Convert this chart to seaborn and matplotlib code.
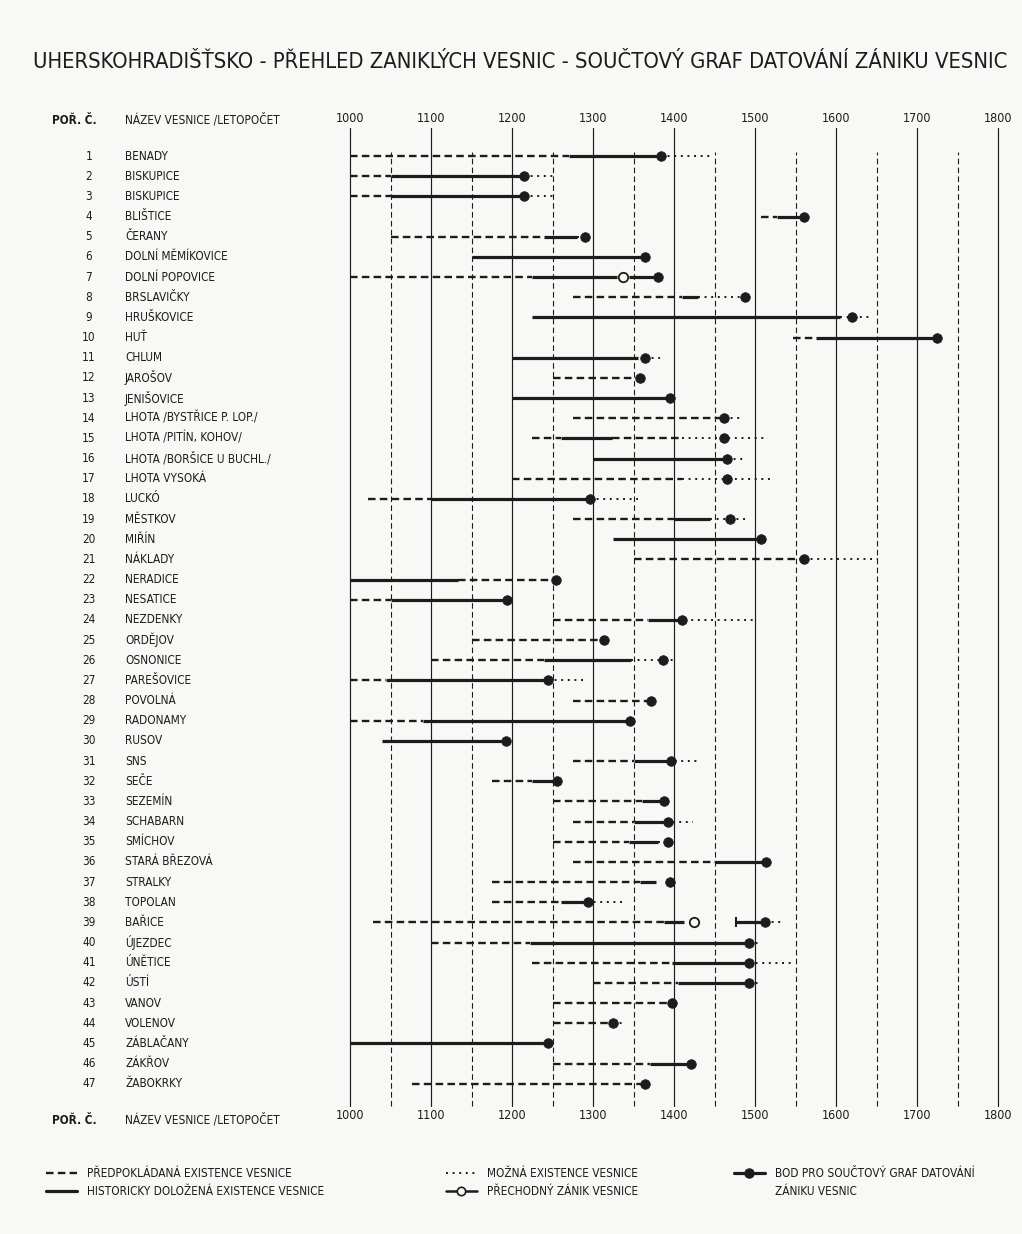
import matplotlib
matplotlib.use("Agg")
import pandas as pd
import matplotlib.pyplot as plt
import seaborn as sns
from matplotlib.lines import Line2D
from matplotlib.transforms import blended_transform_factory

# =========================
# DATA
# =========================
TITLE = "UHERSKOHRADIŠŤSKO - PŘEHLED ZANIKLÝCH VESNIC - SOUČTOVÝ GRAF DATOVÁNÍ ZÁNIKU VESNIC"

names = [
    "BENADY", "BISKUPICE", "BISKUPICE", "BLIŠTICE", "ČERANY",
    "DOLNÍ MĚMÍKOVICE", "DOLNÍ POPOVICE", "BRSLAVIČKY", "HRUŠKOVICE", "HUŤ",
    "CHLUM", "JAROŠOV", "JENIŠOVICE", "LHOTA /BYSTŘICE P. LOP./",
    "LHOTA /PITÍN, KOHOV/", "LHOTA /BORŠICE U BUCHL./", "LHOTA VYSOKÁ",
    "LUCKÓ", "MĚSTKOV", "MIŘÍN", "NÁKLADY", "NERADICE", "NESATICE",
    "NEZDENKY", "ORDĚJOV", "OSNONICE", "PAREŠOVICE", "POVOLNÁ", "RADONAMY",
    "RUSOV", "SNS", "SEČE", "SEZEMÍN", "SCHABARN", "SMÍCHOV",
    "STARÁ BŘEZOVÁ", "STRALKY", "TOPOLAN", "BAŘICE", "ÚJEZDEC", "ÚNĚTICE",
    "ÚSTÍ", "VANOV", "VOLENOV", "ZÁBLAČANY", "ZÁKŘOV", "ŽABOKRKY",
]
row_no = list(range(1, len(names) + 1))

century_ticks = [1000, 1100, 1200, 1300, 1400, 1500, 1600, 1700, 1800]
half_century = [1050, 1150, 1250, 1350, 1450, 1550, 1650, 1750]

# (row, from year, to year)
assumed = [  # předpokládaná existence - dashed
    (1, 1000, 1270), (2, 1000, 1050), (3, 1000, 1050), (4, 1508, 1527),
    (5, 1050, 1240), (7, 1000, 1225), (8, 1275, 1410), (10, 1547, 1575),
    (12, 1250, 1355), (14, 1275, 1460), (15, 1225, 1260), (15, 1323, 1410),
    (17, 1200, 1410), (18, 1022, 1100), (19, 1275, 1400), (21, 1350, 1560),
    (22, 1133, 1254), (23, 1000, 1050), (24, 1250, 1368), (25, 1150, 1314),
    (26, 1100, 1240), (27, 1000, 1045), (28, 1275, 1370), (29, 1000, 1090),
    (31, 1275, 1350), (32, 1175, 1225), (33, 1250, 1360), (34, 1275, 1350),
    (35, 1250, 1345), (36, 1275, 1450), (37, 1175, 1358), (38, 1175, 1260),
    (39, 1028, 1388), (40, 1100, 1222), (41, 1225, 1397), (42, 1300, 1405),
    (43, 1250, 1397), (44, 1250, 1325), (46, 1250, 1370), (47, 1077, 1364),
]
documented = [  # historicky doložená existence - solid
    (1, 1270, 1384), (2, 1050, 1215), (3, 1050, 1215), (4, 1527, 1560),
    (5, 1240, 1280), (6, 1150, 1364), (7, 1225, 1330), (7, 1345, 1380),
    (8, 1410, 1430), (9, 1225, 1605), (10, 1575, 1725), (11, 1200, 1355),
    (13, 1200, 1395), (15, 1260, 1323), (16, 1300, 1465), (18, 1100, 1296),
    (19, 1400, 1445), (20, 1325, 1508), (22, 1000, 1133), (23, 1050, 1194),
    (24, 1368, 1405), (26, 1240, 1347), (27, 1045, 1245), (29, 1090, 1346),
    (30, 1040, 1193), (31, 1350, 1392), (32, 1225, 1255), (33, 1360, 1388),
    (34, 1350, 1390), (35, 1345, 1380), (36, 1450, 1514), (37, 1358, 1378),
    (38, 1260, 1292), (39, 1388, 1412), (39, 1477, 1512), (40, 1222, 1492),
    (41, 1397, 1492), (42, 1405, 1492), (45, 1000, 1245), (46, 1370, 1421),
]
possible = [  # možná existence - dotted
    (1, 1384, 1445), (2, 1215, 1250), (3, 1215, 1250), (5, 1280, 1290),
    (8, 1430, 1488), (9, 1605, 1645), (11, 1364, 1383), (14, 1462, 1481),
    (15, 1410, 1516), (16, 1465, 1486), (17, 1410, 1522), (18, 1296, 1355),
    (19, 1445, 1492), (21, 1560, 1652), (24, 1405, 1500), (26, 1347, 1400),
    (27, 1245, 1293), (31, 1392, 1428), (34, 1390, 1424), (35, 1380, 1393),
    (38, 1292, 1340), (39, 1512, 1535), (40, 1492, 1508), (41, 1492, 1547),
    (42, 1492, 1506), (44, 1325, 1337),
]
# bod pro součtový graf (one per village)
end_year = [
    1384, 1215, 1215, 1560, 1290, 1364, 1380, 1488, 1620, 1725,
    1364, 1358, 1395, 1462, 1462, 1465, 1466, 1296, 1469, 1508,
    1560, 1254, 1194, 1410, 1314, 1386, 1245, 1372, 1346, 1193,
    1396, 1255, 1388, 1393, 1393, 1514, 1395, 1294, 1512, 1492,
    1492, 1492, 1397, 1325, 1245, 1421, 1364,
]
# přechodný zánik (open circles)
temp_rows = [7, 39]
temp_year = [1337, 1425]
# restart tick
restart_rows = [39]
restart_year = [1477]

# =========================
# STYLE
# =========================
W, H = 1022, 1234
INK = "#1c1c1c"
BG = "#f8f8f6"
sns.set_theme(style="white")
plt.rcParams["font.family"] = ["Liberation Sans Narrow", "DejaVu Sans"]
plt.rcParams["font.stretch"] = "condensed"
plt.rcParams["text.color"] = INK

DASH = (0, (3.2, 1.8))
DOT = (0, (1, 2.4))


def py(px):  # pixel from top -> figure fraction
    return 1 - px / H


fig = plt.figure(figsize=(W / 100, H / 100), dpi=100, facecolor=BG)

# row r sits at 156 + (r-1)*20.17 px
top_px, bot_px = 128, 1106
step = 20.17
ax = fig.add_axes([350 / W, py(bot_px), 648 / W, (bot_px - top_px) / H])
ax.set_facecolor("none")
ax.set_xlim(1000, 1800)
ax.set_ylim(1 + (bot_px - 156) / step, 1 + (top_px - 156) / step)
for s in ax.spines.values():
    s.set_visible(False)
ax.set_yticks([])
ax.set_xticks(century_ticks)
ax.set_xticklabels([str(c) for c in century_ticks])
ax.tick_params(axis="x", top=True, bottom=True, labeltop=True,
               labelbottom=True, length=0, pad=2, labelsize=9, colors=INK)

# grid of years
for c in century_ticks:
    ax.axvline(c, color=INK, lw=0.85, clip_on=False, zorder=1)
for c in half_century:
    ax.axvline(c, color=INK, lw=0.8, ls=(0, (5, 3)), clip_on=False,
               ymax=0.975, zorder=1)

# segments
dash_df = pd.DataFrame(assumed, columns=["row", "start", "end"])
solid_df = pd.DataFrame(documented, columns=["row", "start", "end"])
dot_df = pd.DataFrame(possible, columns=["row", "start", "end"])

ax.hlines(dash_df["row"], dash_df["start"], dash_df["end"], colors=INK,
          linewidth=1.7, linestyles=[DASH], zorder=3)
ax.hlines(dot_df["row"], dot_df["start"], dot_df["end"], colors=INK,
          linewidth=1.4, linestyles=[DOT], zorder=3)
ax.hlines(solid_df["row"], solid_df["start"], solid_df["end"], colors=INK,
          linewidth=2.3, zorder=4)

pts = pd.DataFrame({"row": row_no, "year": end_year})
sns.scatterplot(data=pts, x="year", y="row", ax=ax, color=INK, s=48,
                edgecolor=INK, linewidth=0.5, zorder=5, clip_on=False)
tmp = pd.DataFrame({"row": temp_rows, "year": temp_year})
sns.scatterplot(data=tmp, x="year", y="row", ax=ax, facecolor=BG, s=46,
                edgecolor=INK, linewidth=1.3, zorder=5)
rst = pd.DataFrame({"row": restart_rows, "year": restart_year})
sns.scatterplot(data=rst, x="year", y="row", ax=ax, marker="|", s=60,
                color=INK, linewidth=1.5, zorder=5)
ax.set_xlabel("")
ax.set_ylabel("")

# row numbers and village names on the left
tr = blended_transform_factory(fig.transFigure, ax.transData)
for n, name in zip(row_no, names):
    ax.text(89 / W, n, str(n), transform=tr, ha="center", va="center",
            fontsize=8.5, color=INK)
    ax.text(125 / W, n, name, transform=tr, ha="left", va="center",
            fontsize=8.5, color=INK)

# header / footer captions
for ypx in (120, 1120):
    fig.text(52 / W, py(ypx), "POŘ. Č.", ha="left", va="center",
             fontsize=8.5, fontweight="bold")
    fig.text(125 / W, py(ypx), "NÁZEV VESNICE /LETOPOČET", ha="left",
             va="center", fontsize=8.5)

# title, scaled to the scanned width
title = fig.text(33 / W, py(62), TITLE, ha="left", va="center", fontsize=18)
fig.canvas.draw()
bb = title.get_window_extent()
title.set_fontsize(18 * 982 / bb.width)

# legend
h_dash = Line2D([], [], color=INK, lw=1.7, ls=DASH)
h_solid = Line2D([], [], color=INK, lw=2.3)
h_dot = Line2D([], [], color=INK, lw=1.4, ls=DOT)
h_tmp = Line2D([], [], color=INK, lw=1.8, marker="o", mfc=BG, mec=INK,
               ms=6, mew=1.2)
h_bod = Line2D([], [], color=INK, lw=2.3, marker="o", mfc=INK, ms=6.5)
h_none = Line2D([], [], color="none")

leg_kw = dict(loc="upper left", frameon=False, fontsize=8.5, borderpad=0,
              handlelength=2.6, handletextpad=0.9, labelspacing=0.45,
              numpoints=1)
fig.legend([h_dash, h_solid],
           ["PŘEDPOKLÁDANÁ EXISTENCE VESNICE",
            "HISTORICKY DOLOŽENÁ EXISTENCE VESNICE"],
           bbox_to_anchor=(40 / W, py(1161)), **leg_kw)
fig.legend([h_dot, h_tmp],
           ["MOŽNÁ EXISTENCE VESNICE", "PŘECHODNÝ ZÁNIK VESNICE"],
           bbox_to_anchor=(440 / W, py(1161)), **leg_kw)
fig.legend([h_bod, h_none],
           ["BOD PRO SOUČTOVÝ GRAF DATOVÁNÍ", "ZÁNIKU VESNIC"],
           bbox_to_anchor=(728 / W, py(1161)), **leg_kw)

fig.savefig("out.png", dpi=100, facecolor=BG)
